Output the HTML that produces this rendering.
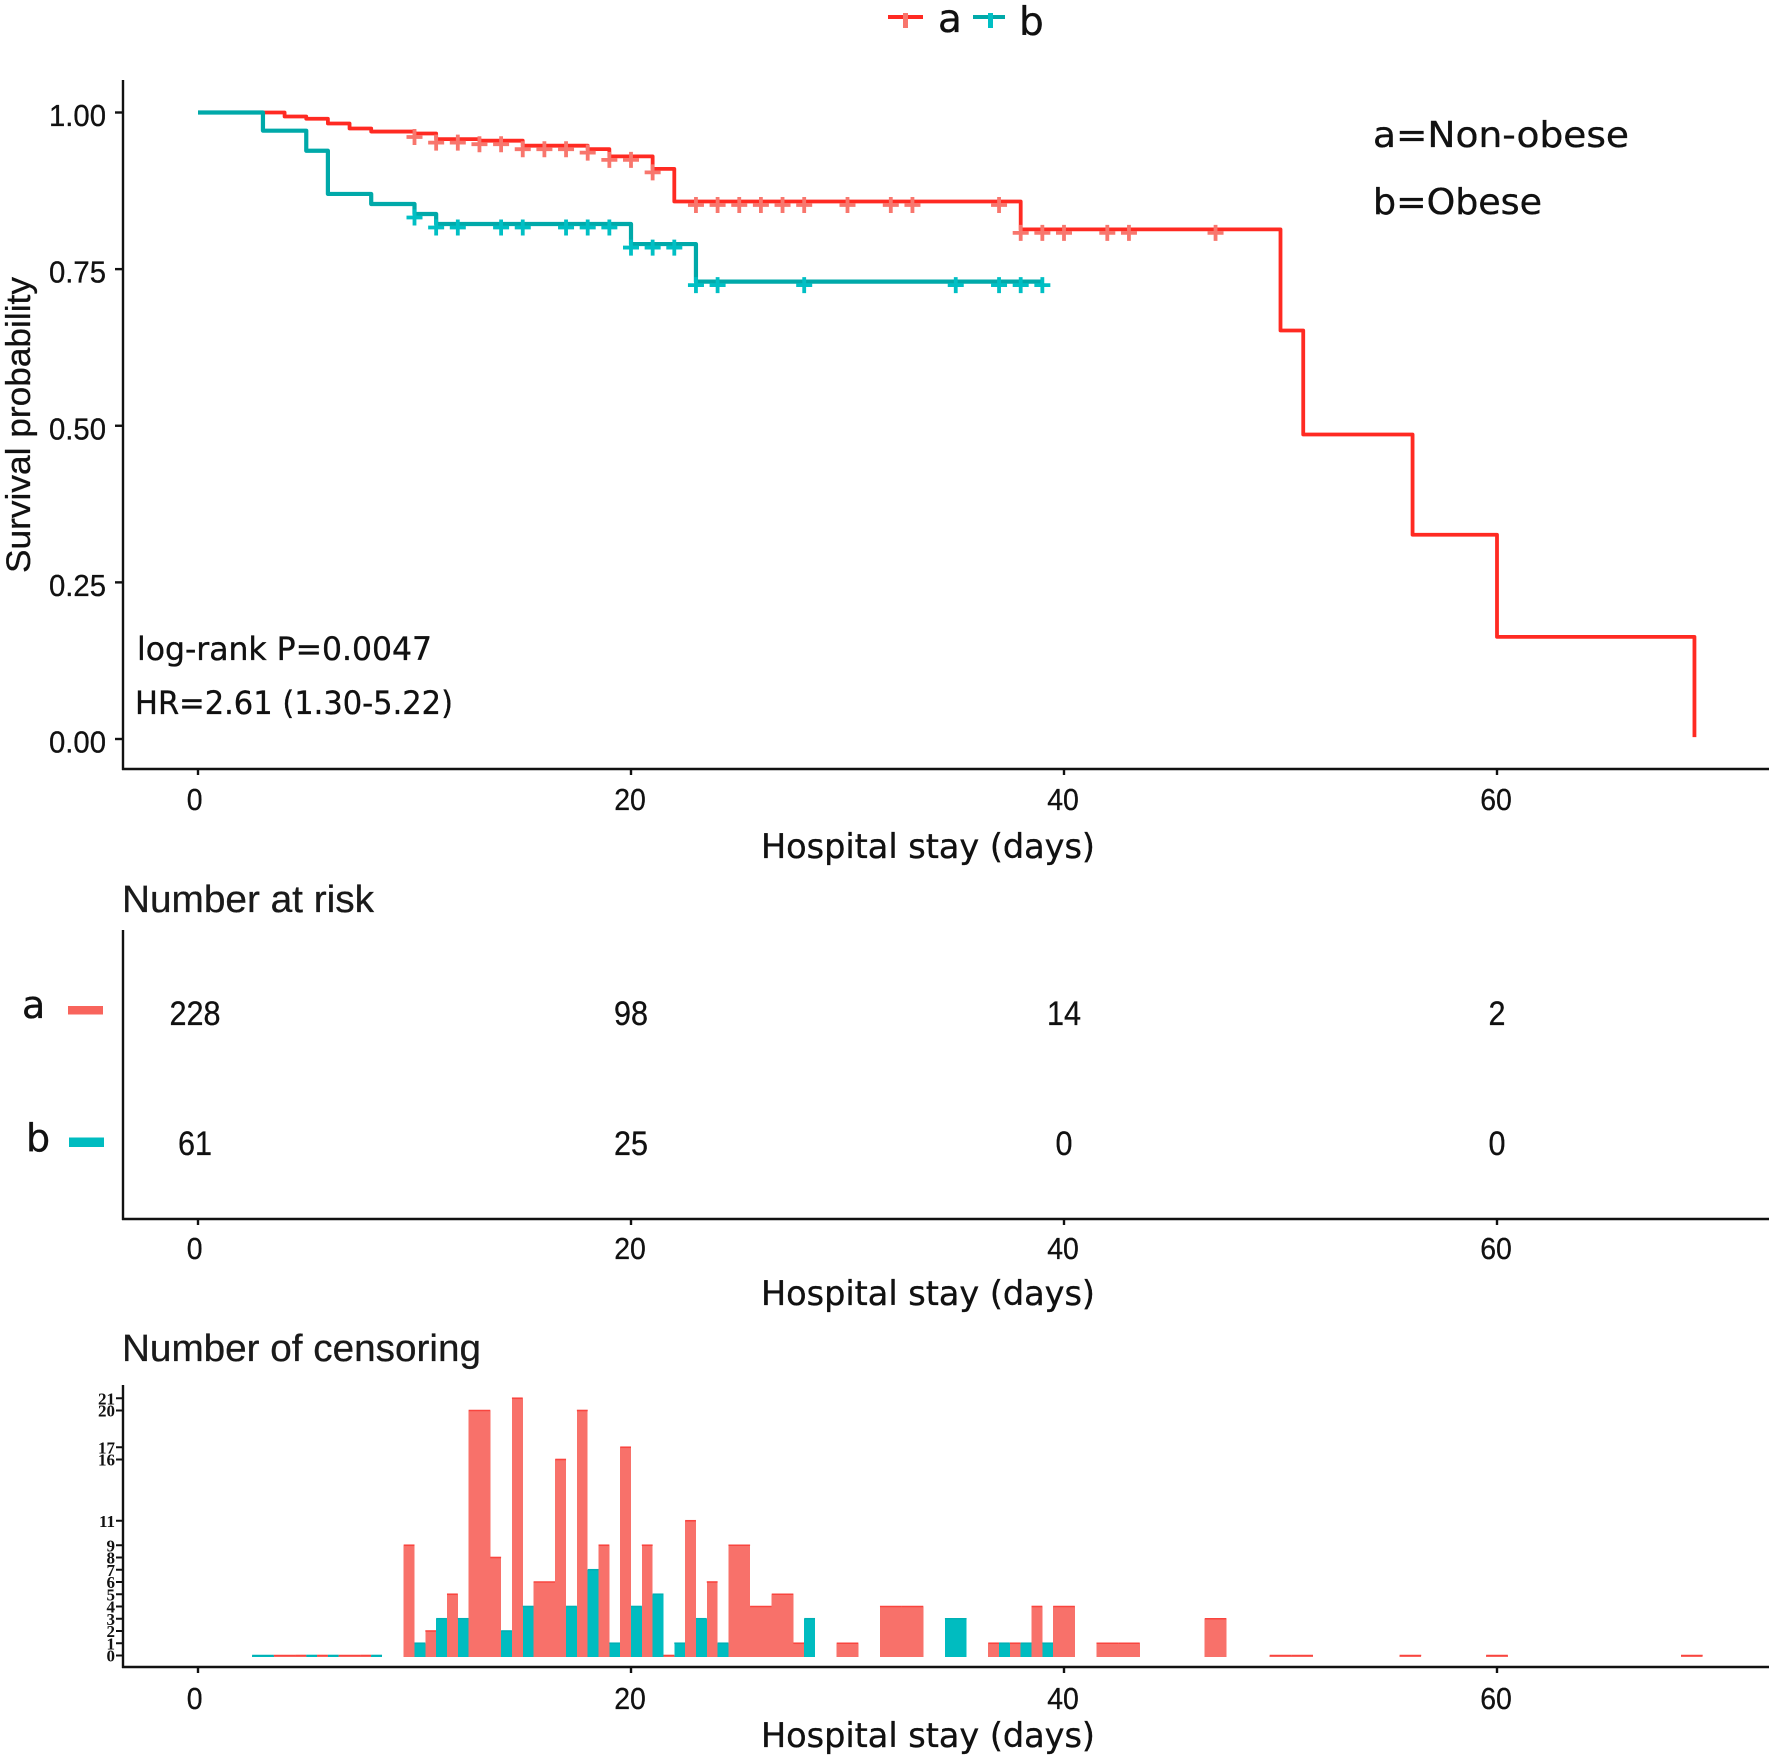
<!DOCTYPE html>
<html lang="en">
<head>
<meta charset="utf-8">
<title>Survival by obesity status</title>
<style>
html,body{margin:0;padding:0;background:#fff;width:1772px;height:1759px;overflow:hidden}
svg{display:block}
.ui{font-family:"DejaVu Sans","Liberation Sans",sans-serif;fill:#111;stroke:#111;stroke-width:.35px}
.tk{font-family:"Liberation Sans",sans-serif;fill:#111;font-size:31px;stroke:#111;stroke-width:.3px}
.ttl{font-family:"Liberation Sans",sans-serif;fill:#1a1a1a;font-size:38px;stroke:#1a1a1a;stroke-width:.3px}
.cn{font-family:"Liberation Serif",serif;font-weight:bold;fill:#111;font-size:17px}
</style>
</head>
<body>
<svg id="chart" xmlns="http://www.w3.org/2000/svg" width="1772" height="1759" viewBox="0 0 1772 1759">
  <rect x="0" y="0" width="1772" height="1759" fill="#fff"/>

  <g id="km-panel"></g>
  <g id="risk-panel"></g>
  <g id="cens-panel"></g>

  <g>
    <g>
      <line x1="888" y1="17" x2="923" y2="17" stroke="#ff2a22" stroke-width="4"/>
      <line x1="905.500" y1="13" x2="905.500" y2="28" stroke="#F8766D" stroke-width="5"/>
      <text class="ui" x="938" y="32" font-size="39">a</text>
    </g>
    <g>
      <line x1="973" y1="17" x2="1005" y2="17" stroke="#00a9a9" stroke-width="4"/>
      <line x1="990.500" y1="13" x2="990.500" y2="28" stroke="#00BFC4" stroke-width="5"/>
      <text class="ui" x="1019" y="35" font-size="39">b</text>
    </g>
  </g>

  <text class="tk" transform="translate(30 573) rotate(-90)" style="font-size:34px" textLength="296" lengthAdjust="spacingAndGlyphs">Survival probability</text>
  <text class="ui" x="1373" y="147" font-size="36" textLength="256" lengthAdjust="spacingAndGlyphs">a=Non-obese</text>
  <text class="ui" x="1373" y="214" font-size="36" textLength="169" lengthAdjust="spacingAndGlyphs">b=Obese</text>
  <text class="ui" x="137" y="660" font-size="32" textLength="295" lengthAdjust="spacingAndGlyphs">log-rank P=0.0047</text>
  <text class="ui" x="135" y="714" font-size="32" textLength="318" lengthAdjust="spacingAndGlyphs">HR=2.61 (1.30-5.22)</text>
  <text class="ui" x="761" y="858" font-size="34" textLength="334" lengthAdjust="spacingAndGlyphs">Hospital stay (days)</text>

  <text class="ttl" x="122" y="912" textLength="252" lengthAdjust="spacingAndGlyphs">Number at risk</text>
  <text class="ui" x="22" y="1018" font-size="38">a</text>
  <rect x="68" y="1006" width="35" height="8.500" fill="#F8645C"/>
  <text class="ui" x="26" y="1151" font-size="38">b</text>
  <rect x="69" y="1137.500" width="35" height="9.500" fill="#00BCC0"/>
  <text class="ui" x="761" y="1305" font-size="34" textLength="334" lengthAdjust="spacingAndGlyphs">Hospital stay (days)</text>

  <text class="ttl" x="122" y="1361" textLength="359" lengthAdjust="spacingAndGlyphs">Number of censoring</text>
  <text class="ui" x="761" y="1747" font-size="34" textLength="334" lengthAdjust="spacingAndGlyphs">Hospital stay (days)</text>
</svg>

<script>
// ---- Data ----
const xTicks = [0, 20, 40, 60];
const survTicks = [1.00, 0.75, 0.50, 0.25, 0.00];
const survTickLabels = ["1.00", "0.75", "0.50", "0.25", "0.00"];

const stepTimesA = [0, 3, 4, 5, 6, 7, 8, 10, 11, 13, 15, 18, 19, 21, 22, 38, 50, 51.05, 56.1, 60, 69.12];
const stepSurvA = [1, 1, 0.9936, 0.990, 0.9825, 0.9745, 0.9696, 0.9665, 0.9575, 0.955, 0.947, 0.9415, 0.93, 0.91, 0.858, 0.8135, 0.652, 0.486, 0.326, 0.163, 0.003];
const censorTimesA = [10, 11, 12, 13, 14, 15, 16, 17, 18, 19, 20, 21, 23, 24, 25, 26, 27, 28, 30, 32, 33, 37, 38, 39, 40, 42, 43, 47];

const stepTimesB = [0, 3, 5, 6, 8, 10, 11, 20, 23];
const stepSurvB = [1, 0.971, 0.939, 0.870, 0.854, 0.838, 0.822, 0.79, 0.730];
const censorTimesB = [10, 11, 12, 14, 15, 17, 18, 19, 20, 21, 22, 23, 24, 28, 35, 37, 38, 39];
const lastTimeB = 39;

const riskValuesA = [228, 98, 14, 2];
const riskValuesB = [61, 25, 0, 0];

const censorCountTicks = [0, 1, 2, 3, 4, 5, 6, 7, 8, 9, 11, 16, 17, 20, 21];
const censorDays   = [3, 4, 5, 6, 7, 8, 10, 11, 12, 13, 14, 15, 16, 17, 18, 19, 20, 21, 22, 23, 24, 25, 26, 27, 28, 30, 32, 33, 35, 37, 38, 39, 40, 42, 43, 47, 50, 51, 56, 60, 69];
const censorCountA = [null, 0, 0, 0, 0, 0, 9, 2, 5, 20, 8, 21, 6, 16, 20, 9, 17, 9, 0, 11, 6, 9, 4, 5, 1, 1, 4, 4, null, 1, 1, 4, 4, 1, 1, 3, 0, 0, 0, 0, 0];
const censorCountB = [0, null, 0, 0, null, 0, 1, 3, 3, null, 2, 4, null, 4, 7, 1, 4, 5, 1, 3, 1, null, null, null, 3, null, null, null, 3, 1, 1, 1, null, null, null, null, null, null, null, null, null];

// ---- Axis functions ----
const NS = "http://www.w3.org/2000/svg";
const axisLeft = 123, axisRight = 1769;
function xDay(d) { return 198 + d * 21.65; }
function ySurv(s) { return 739 - 626.5 * s; }
function yCount(n) { return 1655.5 - 12.25 * n; }
function labelShift(t) { return t === 0 ? -3 : 0; }

function mk(parent, tag, attrs, text) {
  const el = document.createElementNS(NS, tag);
  for (const k in attrs) el.setAttribute(k, attrs[k]);
  if (text !== undefined) el.textContent = text;
  parent.appendChild(el);
  return el;
}

function levelAt(times, surv, t) {
  let v = surv[0];
  for (let i = 0; i < times.length; i++) if (times[i] <= t) v = surv[i];
  return v;
}

function stepPath(times, surv, endTime) {
  let d = "M" + xDay(times[0]) + " " + ySurv(surv[0]);
  for (let i = 1; i < times.length; i++) {
    d += "H" + xDay(times[i]) + "V" + ySurv(surv[i]);
  }
  if (endTime !== undefined) d += "H" + xDay(endTime);
  return d;
}

function drawFrame(panel, yTop, yAxis, labelBase, nameKey) {
  const yLine = mk(panel, "line", {x1: axisLeft, y1: yTop, x2: axisLeft, y2: yAxis + 1, stroke: "#111", "stroke-width": 2.4});
  
  
  const xLine = mk(panel, "line", {x1: axisLeft - 1, y1: yAxis, x2: axisRight, y2: yAxis, stroke: "#111", "stroke-width": 2.4});
  
  
  xTicks.forEach(function (t) {
    const tick = mk(panel, "line", {x1: xDay(t), y1: yAxis, x2: xDay(t), y2: yAxis + 6, stroke: "#111", "stroke-width": 2.4});
    
    
    const txt = String(t);
    const lab = mk(panel, "text", {x: xDay(t) + labelShift(t) * 0.8 - 1, y: labelBase, "text-anchor": "middle", "class": "tk", textLength: txt.length * 15.8, lengthAdjust: "spacingAndGlyphs"}, txt);
    
    
  });
}

function drawCensorMarks(panel, times, stepT, stepS, color, nameKey) {
  times.forEach(function (t) {
    const cx = xDay(t), cy = ySurv(levelAt(stepT, stepS, t)) + 3.5;
    const mark = mk(panel, "path", {d: "M" + (cx - 8) + " " + cy + "H" + (cx + 8) + "M" + cx + " " + (cy - 8) + "V" + (cy + 8), fill: "none", stroke: color, "stroke-width": 3.8});
    
    
  });
}

// ---- Survival panel ----
const km = document.getElementById("km-panel");
drawFrame(km, 80, 769, 810, "survival");
survTicks.forEach(function (s, i) {
  const tick = mk(km, "line", {x1: axisLeft - 8, y1: ySurv(s), x2: axisLeft, y2: ySurv(s), stroke: "#111", "stroke-width": 2.4});
  
  
  const lab = mk(km, "text", {x: 106, y: ySurv(s) + 13.5, "text-anchor": "end", "class": "tk", textLength: 57, lengthAdjust: "spacingAndGlyphs"}, survTickLabels[i]);
  
  
});
const curveA = mk(km, "path", {d: stepPath(stepTimesA, stepSurvA), fill: "none", stroke: "#ff2a22", "stroke-width": 3.8, "stroke-linejoin": "round"});


const curveB = mk(km, "path", {d: stepPath(stepTimesB, stepSurvB, lastTimeB), fill: "none", stroke: "#00a9a9", "stroke-width": 4.2, "stroke-linejoin": "round"});


drawCensorMarks(km, censorTimesA, stepTimesA, stepSurvA, "#F8766D", "censor-mark-a");
drawCensorMarks(km, censorTimesB, stepTimesB, stepSurvB, "#00BFC4", "censor-mark-b");

// ---- Risk table panel ----
const risk = document.getElementById("risk-panel");
drawFrame(risk, 930, 1219, 1259, "risk");
xTicks.forEach(function (t, i) {
  const ta = String(riskValuesA[i]);
  const a = mk(risk, "text", {x: xDay(t) + labelShift(t), y: 1025, "text-anchor": "middle", "class": "tk", style: "font-size:34px", textLength: ta.length * 17, lengthAdjust: "spacingAndGlyphs"}, ta);
  
  
  const tb = String(riskValuesB[i]);
  const b = mk(risk, "text", {x: xDay(t) + labelShift(t), y: 1155, "text-anchor": "middle", "class": "tk", style: "font-size:34px", textLength: tb.length * 17, lengthAdjust: "spacingAndGlyphs"}, tb);
  
  
});

// ---- Censoring panel ----
const cens = document.getElementById("cens-panel");
drawFrame(cens, 1385, 1667, 1709, "censoring");
censorCountTicks.forEach(function (n) {
  const tick = mk(cens, "line", {x1: axisLeft - 7, y1: yCount(n), x2: axisLeft, y2: yCount(n), stroke: "#111", "stroke-width": 2});
  
  
  const lab = mk(cens, "text", {x: 115, y: yCount(n) + 6, "text-anchor": "end", "class": "cn"}, String(n));
  
  
});
const dayWidth = 21.65;
function drawBar(x0, x1, n, fill, edge, name) {
  const bar = mk(cens, "rect", {x: x0, y: yCount(n), width: x1 - x0, height: yCount(0) - yCount(n) + 1.5, fill: fill, "shape-rendering": "crispEdges"});
  
  
  const cap = mk(cens, "line", {x1: x0, y1: yCount(n), x2: x1, y2: yCount(n), stroke: edge, "stroke-width": 1.6});
  
  
}
censorDays.forEach(function (d, i) {
  const cx = xDay(d), a = censorCountA[i], b = censorCountB[i];
  const left = cx - dayWidth / 2, right = cx + dayWidth / 2;
  if (a !== null && b !== null) {
    drawBar(left, cx, a, "#F8716A", "#f9453f", "censor-bar-a");
    drawBar(cx, right, b, "#00BCC0", "#00B0B4", "censor-bar-b");
  } else if (a !== null) {
    drawBar(left, right, a, "#F8716A", "#f9453f", "censor-bar-a");
  } else {
    drawBar(left, right, b, "#00BCC0", "#00B0B4", "censor-bar-b");
  }
});
</script>
</body>
</html>
